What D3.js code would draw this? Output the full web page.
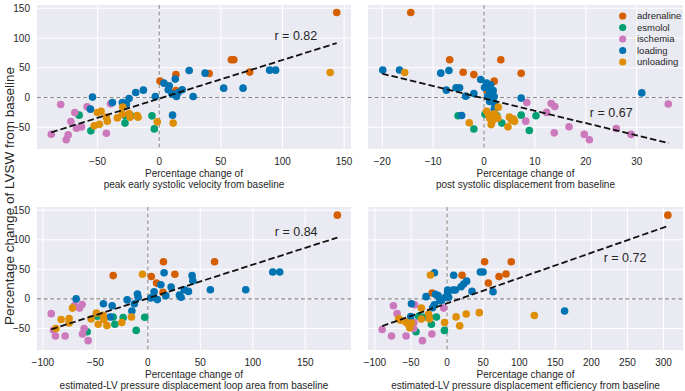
<!DOCTYPE html>
<html>
<head>
<meta charset="utf-8">
<script src="https://cdn.jsdelivr.net/npm/d3@7"></script>
<style>
  body { margin: 0; background: #fff; }
  svg text { font-family: "Liberation Sans", Arial, sans-serif; fill: #262626; }
</style>
</head>
<body>
<svg id="chart" width="685" height="391"></svg>
<script>
// groups and colours (seaborn colorblind)
const groups = ["adrenaline", "esmolol", "ischemia", "loading", "unloading"];
const groupColors = ["#D55E00", "#029E73", "#CC78BC", "#0173B2", "#DE8F05"];

const yTicks = [-50, 0, 50, 100, 150];

// peak early systolic velocity  [x, y, group]
const velocityPts = [
  [144,143,"adrenaline"],[58.5,63.5,"adrenaline"],[60.5,63.5,"adrenaline"],[40.5,40.4,"adrenaline"],
  [73.4,42.7,"adrenaline"],[13.5,38.7,"adrenaline"],[0.6,27.6,"adrenaline"],[13.5,11.8,"adrenaline"],
  [-65,-29.6,"esmolol"],[-55.5,-56,"esmolol"],[-27.8,-30.8,"esmolol"],[-27.8,-43,"esmolol"],
  [-23,-30.8,"esmolol"],[-5.9,-30.8,"esmolol"],[-4,-52.7,"esmolol"],
  [-80,-11.8,"ischemia"],[-87.6,-61.7,"ischemia"],[-75.5,-71,"ischemia"],[-73.9,-62.8,"ischemia"],
  [-71.7,-40.4,"ischemia"],[-68.5,-25.2,"ischemia"],[-67.2,-51.6,"ischemia"],[-63.1,-49.4,"ischemia"],
  [-58.5,-15.7,"ischemia"],[-42.9,-60,"ischemia"],[-39.6,-10.6,"ischemia"],
  [-54.2,0.7,"loading"],[-55.8,-19.5,"loading"],[-38,-8.4,"loading"],[-29.9,-8.4,"loading"],
  [-26.7,-11,"loading"],[-24.5,-1.7,"loading"],[-19.1,8.4,"loading"],[-12.9,12.4,"loading"],
  [-3.2,1.7,"loading"],[3.8,24.2,"loading"],[8.1,19.7,"loading"],[7.3,13,"loading"],
  [13,31,"loading"],[10.3,6.2,"loading"],[15.4,8.4,"loading"],[18.6,13,"loading"],
  [14,1.7,"loading"],[24.3,45.5,"loading"],[27.5,1.7,"loading"],[37.2,41,"loading"],
  [52.3,15.8,"loading"],[68,15.8,"loading"],[89.6,46,"loading"],[94.4,46,"loading"],
  [10.8,-29.6,"loading"],
  [-50.2,-25.2,"unloading"],[-47.2,-23,"unloading"],[-52.8,-47.6,"unloading"],[-48.5,-44.8,"unloading"],
  [-42.9,-33,"unloading"],[-42.1,-39.7,"unloading"],[-34,-34.2,"unloading"],[-29.6,-16.2,"unloading"],
  [-30,-28,"unloading"],[-24.5,-26.9,"unloading"],[-23.7,-33,"unloading"],[-18,-30.3,"unloading"],
  [-17.2,-33,"unloading"],[-1.6,-40.9,"unloading"],[11.3,-43,"unloading"],[138.7,42,"unloading"]
];

// post systolic displacement
const postSystolicPts = [
  [-14.4,143,"adrenaline"],[-6.75,63.6,"adrenaline"],[3.3,63.6,"adrenaline"],[-4.1,42.5,"adrenaline"],
  [-2,38.5,"adrenaline"],[7.3,40.6,"adrenaline"],[2,27.5,"adrenaline"],[0.6,12,"adrenaline"],
  [-5.1,-30.5,"esmolol"],[-2,-53,"esmolol"],[0.2,-28,"esmolol"],[2.5,-30.8,"esmolol"],
  [3.5,-43,"esmolol"],[7.3,-29.6,"esmolol"],[8.9,-55.3,"esmolol"],[10.2,-30.7,"esmolol"],
  [8.4,-8.4,"ischemia"],[13.2,-10,"ischemia"],[13.9,-15,"ischemia"],[12.3,-25,"ischemia"],
  [8.2,-39.7,"ischemia"],[16.7,-49,"ischemia"],[13.8,-59.4,"ischemia"],[19.7,-62,"ischemia"],
  [20.7,-71,"ischemia"],[26,-52,"ischemia"],[28.9,-62,"ischemia"],[36.2,-11,"ischemia"],
  [-19.9,46.2,"loading"],[-16.6,46.2,"loading"],[-8.5,41,"loading"],[-6.9,45.5,"loading"],
  [-7.4,12.4,"loading"],[-5.5,16.3,"loading"],[-4.8,16.3,"loading"],[-3.6,2.3,"loading"],
  [-2,6.8,"loading"],[-0.65,30.3,"loading"],[0.1,16.8,"loading"],[0.5,24.2,"loading"],
  [1.3,21.4,"loading"],[1.8,11.8,"loading"],[1.1,10.1,"loading"],[0.7,1.7,"loading"],
  [1.3,0,"loading"],[2,1.7,"loading"],[1.1,-6.7,"loading"],[2,-9.4,"loading"],
  [2,-19.5,"loading"],[-4.4,-30.3,"loading"],[7.3,-1,"loading"],[31,7.8,"loading"],
  [-15.6,42,"unloading"],[-2.9,-42.5,"unloading"],[0.5,-23,"unloading"],[0.9,-29,"unloading"],
  [1.1,-34.7,"unloading"],[1.4,-45.5,"unloading"],[2,-27.4,"unloading"],[2.3,-30.8,"unloading"],
  [2.8,-16.2,"unloading"],[2.7,-35,"unloading"],[4.7,-49.3,"unloading"],[5,-33,"unloading"],
  [5.4,-38,"unloading"],[5.8,-36,"unloading"],[6,-40,"unloading"],[1.6,-40,"unloading"]
];

// estimated-LV pressure displacement loop area
const loopAreaPts = [
  [180.6,141.7,"adrenaline"],[14.9,62.8,"adrenaline"],[63.6,62.8,"adrenaline"],[-33,39.4,"adrenaline"],
  [3.3,37.8,"adrenaline"],[25.8,41.7,"adrenaline"],[8.3,26.7,"adrenaline"],[14.5,11,"adrenaline"],
  [-57.8,-55.7,"esmolol"],[-11.1,-53.3,"esmolol"],[-48,-29.5,"esmolol"],[-31.4,-42.8,"esmolol"],
  [-33,-30.6,"esmolol"],[-23.5,-31.7,"esmolol"],[-2.9,-31.2,"esmolol"],
  [-92,-25,"ischemia"],[-89.9,-52.8,"ischemia"],[-88,-62.8,"ischemia"],[-78.8,-62.8,"ischemia"],
  [-69.9,-11.2,"ischemia"],[-65.1,-15.6,"ischemia"],[-62.6,-9.5,"ischemia"],[-60.7,-50,"ischemia"],
  [-62.3,-59.5,"ischemia"],[-56.9,-70.7,"ischemia"],
  [-68.3,0,"loading"],[-42.3,-8.3,"loading"],[-34,-11.7,"loading"],[-35.9,-30.6,"loading"],
  [-19.7,-1.7,"loading"],[-15.2,-20.6,"loading"],[-12.8,-8.3,"loading"],[-9.9,8.3,"loading"],
  [-9.2,2.7,"loading"],[2.9,1.7,"loading"],[6,12.2,"loading"],[9.1,-1.2,"loading"],
  [12.4,23.8,"loading"],[15.5,44.3,"loading"],[17.1,5.5,"loading"],[22.2,20,"loading"],
  [30.1,6.7,"loading"],[31.7,2.7,"loading"],[34.6,15.5,"loading"],[38.7,12.7,"loading"],
  [42.2,39.3,"loading"],[42.9,30.5,"loading"],[59.6,15.5,"loading"],[93.3,15.5,"loading"],
  [119,45.5,"loading"],[125.7,45.5,"loading"],
  [-82.6,-35,"unloading"],[-87.6,-50,"unloading"],[-75,-33.3,"unloading"],[-75,-40.6,"unloading"],
  [-71.8,-15.6,"unloading"],[-54,-34,"unloading"],[-49,-24,"unloading"],[-47.3,-42.8,"unloading"],
  [-42.6,-27.8,"unloading"],[-41.9,-35,"unloading"],[-39,-45,"unloading"],[-24.8,-40,"unloading"],
  [-15.6,-30.6,"unloading"],[-5.1,41.7,"unloading"]
];

// estimated-LV pressure displacement efficiency
const efficiencyPts = [
  [306,141.7,"adrenaline"],[52,62.8,"adrenaline"],[89,62.8,"adrenaline"],[20.8,40,"adrenaline"],
  [81.7,42.2,"adrenaline"],[72,37.7,"adrenaline"],[57.2,26.7,"adrenaline"],[-20.8,10,"adrenaline"],
  [-43,-55.6,"esmolol"],[-39.3,-29.5,"esmolol"],[-33,-31,"esmolol"],[-21.7,-42.8,"esmolol"],
  [-14.8,-30.6,"esmolol"],[-3.7,-53.3,"esmolol"],[-25,-30.5,"esmolol"],
  [-90,-51.7,"ischemia"],[-77,-62.8,"ischemia"],[-74.4,-11.7,"ischemia"],[-69.3,-25,"ischemia"],
  [-56.8,-62.8,"ischemia"],[-44.9,-10,"ischemia"],[-46.3,-50,"ischemia"],[-46,-40,"ischemia"],
  [-34.2,-70.7,"ischemia"],[-21.1,-59.4,"ischemia"],[-4.7,-15.6,"ischemia"],
  [-49.4,-8.3,"loading"],[-50.4,-30,"loading"],[-17.6,44.3,"loading"],[-29.1,3.8,"loading"],
  [-16.2,7.7,"loading"],[-12.5,5.5,"loading"],[-17.6,-10,"loading"],[-10,-3,"loading"],
  [-7.9,-2.8,"loading"],[-2.4,2.7,"loading"],[0.8,12.2,"loading"],[0.8,15,"loading"],
  [2.2,2.7,"loading"],[8.3,15,"loading"],[11.5,15,"loading"],[9.2,40,"loading"],
  [19.4,20.5,"loading"],[23,25,"loading"],[27.1,30,"loading"],[34.6,12.7,"loading"],
  [46.1,45.5,"loading"],[49.9,45.5,"loading"],[63.7,12.2,"loading"],[162.9,-20.6,"loading"],
  [-20,-15,"loading"],
  [-23,40.5,"unloading"],[-67,-33.5,"unloading"],[-64.4,-36,"unloading"],[-56.8,-39.5,"unloading"],
  [-53.8,-43,"unloading"],[-51.8,-49,"unloading"],[-49.4,-41,"unloading"],[-35.6,-15.6,"unloading"],
  [-35.6,-34,"unloading"],[-25.5,-26.2,"unloading"],[-24.5,-34,"unloading"],[-3.5,-40,"unloading"],
  [12.5,-30.5,"unloading"],[17.5,-45.6,"unloading"],[26.5,-25.6,"unloading"],[44.7,-23.3,"unloading"],
  [121,-28,"unloading"]
];

// regression line ends
const velocityFit = [[-87.6, -58.5], [144, 91.5]];
const postSystolicFit = [[-20, 40], [36.3, -76.8]];
const loopAreaFit = [[-92, -51.5], [180.6, 103.8]];
const efficiencyFit = [[-90, -46], [306, 123.3]];

const rLabels = ["r = 0.82", "r = 0.67", "r = 0.84", "r = 0.72"];

const velocityTicks = [-50, 0, 50, 100, 150];
const postSystolicTicks = [-20, -10, 0, 10, 20, 30];
const loopAreaTicks = [-100, -50, 0, 50, 100, 150];
const efficiencyTicks = [-100, -50, 0, 50, 100, 150, 200, 250, 300];

const xLabels = [
  "peak early systolic velocity from baseline",
  "post systolic displacement from baseline",
  "estimated-LV pressure displacement loop area from baseline",
  "estimated-LV pressure displacement efficiency from baseline"
];

// layout of the 2x2 grid
const panels = [
  { left: 37, right: 351, top: 5, bottom: 149, xDom: [-99.2, 155.6], ticks: velocityTicks,
    pts: velocityPts, fit: velocityFit, rPos: [93.5, 97], showY: true, legend: false },
  { left: 368, right: 683, top: 5, bottom: 149, xDom: [-22.8, 39.1], ticks: postSystolicTicks,
    pts: postSystolicPts, fit: postSystolicFit, rPos: [20.8, -33], showY: false, legend: true },
  { left: 37, right: 351, top: 207, bottom: 350, xDom: [-105.6, 193.6], ticks: loopAreaTicks,
    pts: loopAreaPts, fit: loopAreaFit, rPos: [121, 107], showY: true, legend: false },
  { left: 368, right: 683, top: 207, bottom: 350, xDom: [-109.6, 327], ticks: efficiencyTicks,
    pts: efficiencyPts, fit: efficiencyFit, rPos: [217, 63], showY: false, legend: false }
];
const yDom = [-86.5, 155.5];

const color = d3.scaleOrdinal().domain(groups).range(groupColors);
const fmt = d => (d < 0 ? "\u2212" + Math.abs(d) : String(d));

const svg = d3.select("#chart");

panels.forEach((p, i) => {
  const x = d3.scaleLinear().domain(p.xDom).range([p.left, p.right]);
  const y = d3.scaleLinear().domain(yDom).range([p.bottom, p.top]);
  const g = svg.append("g");

  g.append("rect")
    .attr("x", p.left).attr("y", p.top)
    .attr("width", p.right - p.left).attr("height", p.bottom - p.top)
    .attr("fill", "#EAEAF2");

  // grid
  g.selectAll(".vg").data(p.ticks).enter().append("line")
    .attr("x1", d => x(d)).attr("x2", d => x(d))
    .attr("y1", p.top).attr("y2", p.bottom)
    .attr("stroke", "#fff").attr("stroke-width", 1);
  g.selectAll(".hg").data(yTicks).enter().append("line")
    .attr("y1", d => y(d)).attr("y2", d => y(d))
    .attr("x1", p.left).attr("x2", p.right)
    .attr("stroke", "#fff").attr("stroke-width", 1);

  // x tick labels
  g.selectAll(".xt").data(p.ticks).enter().append("text")
    .attr("x", d => x(d)).attr("y", p.bottom + 15.5)
    .attr("text-anchor", "middle").style("font-size", "10px")
    .text(fmt);

  if (p.showY) {
    g.selectAll(".yt").data(yTicks).enter().append("text")
      .attr("x", p.left - 7).attr("y", d => y(d) + 3.5)
      .attr("text-anchor", "end").style("font-size", "10px")
      .text(fmt);
  }

  // zero reference lines
  g.append("line")
    .attr("x1", x(0)).attr("x2", x(0)).attr("y1", p.top).attr("y2", p.bottom)
    .attr("stroke", "#8c8c8c").attr("stroke-width", 1.1).attr("stroke-dasharray", "4,2.6");
  g.append("line")
    .attr("x1", p.left).attr("x2", p.right).attr("y1", y(0)).attr("y2", y(0))
    .attr("stroke", "#8c8c8c").attr("stroke-width", 1.1).attr("stroke-dasharray", "4,2.6");

  // points
  g.selectAll(".pt").data(p.pts).enter().append("circle")
    .attr("cx", d => x(d[0])).attr("cy", d => y(d[1]))
    .attr("r", 3.8)
    .attr("fill", d => color(d[2]));

  // regression line
  g.append("path")
    .datum(p.fit)
    .attr("d", d3.line().x(d => x(d[0])).y(d => y(d[1])))
    .attr("fill", "none").attr("stroke", "#111")
    .attr("stroke-width", 1.8).attr("stroke-dasharray", "6.5,3");

  g.append("text")
    .attr("x", x(p.rPos[0])).attr("y", y(p.rPos[1]))
    .style("font-size", "12.5px")
    .text(rLabels[i]);

  // x label (two lines)
  const cx = (p.left + p.right) / 2;
  g.append("text")
    .attr("x", cx).attr("y", p.bottom + 27.5)
    .attr("text-anchor", "middle").style("font-size", "10px")
    .text("Percentage change of");
  g.append("text")
    .attr("x", cx).attr("y", p.bottom + 39)
    .attr("text-anchor", "middle").style("font-size", "10px")
    .text(xLabels[i]);

  if (p.legend) {
    const lg = g.append("g");
    groups.forEach((k, j) => {
      const ly = p.top + 11 + j * 11.5;
      lg.append("circle").attr("cx", 622.7).attr("cy", ly).attr("r", 3.6).attr("fill", color(k));
      lg.append("text").attr("x", 637).attr("y", ly + 3.4)
        .style("font-size", "9.5px").text(k);
    });
  }
});

// shared y label
svg.append("text")
  .attr("transform", "translate(14,196) rotate(-90)")
  .attr("text-anchor", "middle")
  .style("font-size", "13.5px")
  .text("Percentage change of LVSW from baseline");
</script>
</body>
</html>
